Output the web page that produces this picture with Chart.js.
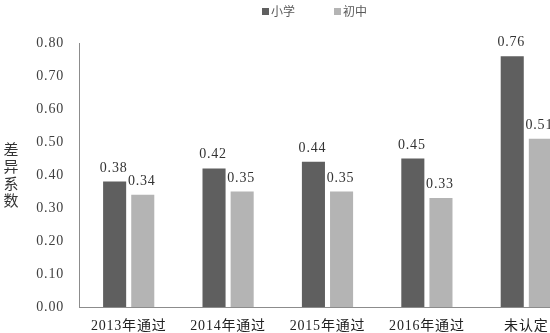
<!DOCTYPE html>
<html>
<head>
<meta charset="utf-8">
<script src="https://cdn.jsdelivr.net/npm/chart.js@4/dist/chart.umd.min.js"></script>
<style>
  html, body { margin: 0; padding: 0; background: #fff; overflow: hidden; }
  .box { position: relative; width: 576px; height: 333px; }
</style>
</head>
<body>
<div class="box"><canvas id="c"></canvas></div>
<script>
const categories = ['2013年通过', '2014年通过', '2015年通过', '2016年通过', '未认定'];
const primary = [0.38, 0.42, 0.44, 0.45, 0.76];   // 小学
const junior = [0.34, 0.35, 0.35, 0.33, 0.51];    // 初中
const yTicks = [0, 0.1, 0.2, 0.3, 0.4, 0.5, 0.6, 0.7, 0.8];

const serif = '"Liberation Serif", "Noto Sans CJK SC", serif';
const cjk = '"Noto Sans CJK SC", sans-serif';

// 글자 간격 조금 넓게
const spacing = {
  id: 'spacing',
  beforeDraw(chart) { chart.ctx.letterSpacing = '0.8px'; },
};

// 막대 위 값 + 범례 + 세로 축 제목
const extras = {
  id: 'extras',
  afterDatasetsDraw(chart) {
    const ctx = chart.ctx;
    ctx.save();
    ctx.letterSpacing = '0.8px';
    ctx.font = '14px ' + serif;
    ctx.fillStyle = '#333';
    ctx.textAlign = 'center';
    ctx.textBaseline = 'alphabetic';
    chart.data.datasets.forEach((ds, i) => {
      chart.getDatasetMeta(i).data.forEach((bar, j) => {
        ctx.fillText(ds.data[j].toFixed(2), bar.x - 1, bar.y - 10);
      });
    });

    // legend
    ctx.letterSpacing = '0px';
    ctx.font = '12px ' + cjk;
    ctx.textAlign = 'left';
    ctx.textBaseline = 'middle';
    const items = [['小学', '#5f5f5f', 262], ['初中', '#b4b4b4', 334]];
    items.forEach(([t, col, x]) => {
      ctx.fillStyle = col;
      ctx.fillRect(x, 8, 7, 7);
      ctx.fillStyle = '#595959';
      ctx.fillText(t, x + 9, 11);
    });

    // y title, stacked
    ctx.font = '15px ' + cjk;
    ctx.fillStyle = '#333';
    ctx.textAlign = 'center';
    '差异系数'.split('').forEach((ch, k) => {
      ctx.fillText(ch, 11, 149 + k * 17);
    });
    ctx.restore();
  }
};

new Chart(document.getElementById('c'), {
  type: 'bar',
  data: {
    labels: categories,
    datasets: [
      { label: '小学', data: primary, backgroundColor: '#5f5f5f' },
      { label: '初中', data: junior, backgroundColor: '#b4b4b4' },
    ],
  },
  options: {
    responsive: true,
    maintainAspectRatio: false,
    animation: false,
    categoryPercentage: 0.566,
    barPercentage: 0.82,
    layout: { padding: { top: 43, left: 0, right: 0, bottom: 0 } },
    scales: {
      x: {
        grid: { display: false, drawTicks: false },
        border: { color: '#8c8c8c', width: 1 },
        ticks: { color: '#222', font: { family: serif, size: 14 }, padding: 11 },
        afterFit(s) { s.height = 26; },
      },
      y: {
        min: 0,
        max: 0.8,
        afterBuildTicks(s) { s.ticks = yTicks.map(v => ({ value: v })); },
        grid: { display: false, drawOnChartArea: false, drawTicks: true, tickLength: 5, color: '#8c8c8c' },
        border: { color: '#8c8c8c', width: 1 },
        ticks: {
          color: '#404040',
          font: { family: serif, size: 14 },
          padding: 10,
          callback: v => Number(v).toFixed(2),
        },
        afterFit(s) { s.width = 79; },
      },
    },
    plugins: {
      legend: { display: false },
      tooltip: { enabled: false },
    },
  },
  plugins: [spacing, extras],
});
</script>
</body>
</html>
